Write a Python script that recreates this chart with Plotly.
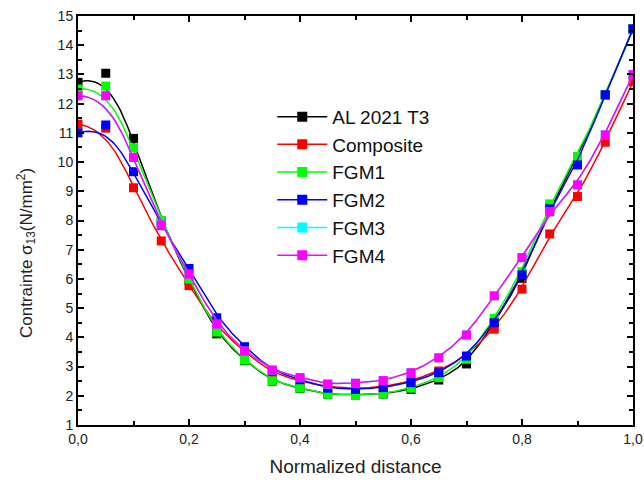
import numpy as np
import plotly.graph_objects as go

# Normalized distance along the beam
x = [0.00, 0.05, 0.10, 0.15, 0.20, 0.25, 0.30, 0.35, 0.40, 0.45, 0.50,
     0.55, 0.60, 0.65, 0.70, 0.75, 0.80, 0.85, 0.90, 0.95, 1.00]

# Shear stress sigma_13 (N/mm^2) for each material
al2021 = [12.73, 13.04, 10.81, 7.98, 5.95, 4.12, 3.20, 2.50, 2.25, 2.05, 2.03,
          2.06, 2.22, 2.54, 3.09, 4.50, 6.02, 8.45, 10.10, 12.30, 14.55]
composite = [11.30, 11.16, 9.12, 7.30, 5.77, 4.35, 3.50, 2.78, 2.50, 2.30, 2.25,
             2.30, 2.50, 2.85, 3.35, 4.28, 5.65, 7.54, 8.82, 10.68, 12.75]
fgm1 = [12.50, 12.60, 10.49, 8.00, 6.00, 4.18, 3.22, 2.51, 2.26, 2.05, 2.03,
        2.06, 2.26, 2.62, 3.25, 4.65, 6.25, 8.57, 10.19, 12.30, 14.55]
fgm2 = [11.00, 11.27, 9.67, 7.82, 6.36, 4.67, 3.68, 2.85, 2.55, 2.26, 2.22,
        2.28, 2.45, 2.79, 3.36, 4.50, 6.14, 8.40, 9.90, 12.30, 14.56]
fgm3 = [12.27, 12.27, 10.16, 7.85, 6.16, 4.45, 3.53, 2.88, 2.62, 2.40, 2.43,
        2.52, 2.79, 3.30, 4.08, 5.42, 6.73, 8.30, 9.22, 10.93, 13.00]
fgm4 = [12.27, 12.27, 10.16, 7.85, 6.16, 4.45, 3.53, 2.88, 2.62, 2.40, 2.43,
        2.52, 2.79, 3.30, 4.08, 5.42, 6.73, 8.30, 9.22, 10.93, 13.00]

names = ["AL 2021 T3", "Composite", "FGM1", "FGM2", "FGM3", "FGM4"]
series = [al2021, composite, fgm1, fgm2, fgm3, fgm4]
colors = ["#000000", "#ff0000", "#00ff00", "#0000ff", "#00ffff", "#ff00ff"]

# x-axis tick values and their labels (comma decimal separator)
x_tickvals = [0.0, 0.2, 0.4, 0.6, 0.8, 1.0]
x_ticktext = ["0,0", "0,2", "0,4", "0,6", "0,8", "1,0"]


def bspline(px, py, degree=3, samples=400):
    """Clamped uniform B-spline using the data points as control points."""
    P = np.column_stack([px, py]).astype(float)
    n = len(P)
    k = degree
    inner = np.arange(1, n - k)
    knots = np.concatenate([np.zeros(k + 1), inner, np.full(k + 1, n - k)])
    t = np.linspace(0, n - k, samples)
    t[-1] -= 1e-9
    # Cox-de Boor recursion
    N = np.zeros((samples, len(knots) - 1))
    for i in range(len(knots) - 1):
        N[:, i] = (t >= knots[i]) & (t < knots[i + 1])
    for d in range(1, k + 1):
        Nn = np.zeros((samples, len(knots) - 1 - d))
        for i in range(len(knots) - 1 - d):
            a = knots[i + d] - knots[i]
            b = knots[i + d + 1] - knots[i + 1]
            term = 0.0
            if a > 0:
                term = term + (t - knots[i]) / a * N[:, i]
            if b > 0:
                term = term + (knots[i + d + 1] - t) / b * N[:, i + 1]
            Nn[:, i] = term
        N = Nn
    C = N @ P
    return C[:, 0], C[:, 1]


fig = go.Figure()
for name, ys, c in zip(names, series, colors):
    sx, sy = bspline(x, ys)
    fig.add_trace(go.Scatter(
        x=sx, y=sy, mode="lines", showlegend=False, legendgroup=name,
        line=dict(color=c, width=1.5), hoverinfo="skip",
    ))
    fig.add_trace(go.Scatter(
        x=x, y=ys, mode="markers", showlegend=False, legendgroup=name,
        marker=dict(symbol="square", size=9, color=c), name=name,
    ))
    # legend entry: line with square marker
    fig.add_trace(go.Scatter(
        x=[None], y=[None], name=name, mode="lines+markers",
        legendgroup=name,
        line=dict(color=c, width=1.5),
        marker=dict(symbol="square", size=10, color=c),
    ))

font_family = "Liberation Sans, Arial, sans-serif"
axis_common = dict(
    showline=True, linecolor="black", linewidth=2, mirror="ticks",
    ticks="inside", ticklen=6, tickwidth=1.5, tickcolor="black",
    showgrid=False, zeroline=False, automargin=False,
    ticklabeloverflow="allow",
    tickfont=dict(family=font_family, size=14, color="#222"),
)

fig.update_layout(
    width=644, height=483,
    margin=dict(l=78, r=11, t=16, b=58),
    paper_bgcolor="white", plot_bgcolor="white",
    separators=", ",
    font=dict(family=font_family, color="#222"),
    xaxis=dict(
        range=[0, 1], tickmode="array", tickvals=x_tickvals,
        ticktext=x_ticktext,
        minor=dict(dtick=0.1, tick0=0, ticks="inside", ticklen=4,
                   tickcolor="black"),
        title=dict(text="Normalized distance", font=dict(size=19), standoff=14),
        **axis_common,
    ),
    yaxis=dict(
        range=[1, 15], dtick=1, tick0=1,
        minor=dict(dtick=0.5, ticks="inside", ticklen=4, tickcolor="black"),
        **axis_common,
    ),
    legend=dict(
        x=0.35, y=0.80, xanchor="left", yanchor="top",
        bgcolor="rgba(0,0,0,0)", borderwidth=0,
        font=dict(family=font_family, size=19, color="#111"),
        itemwidth=50, tracegroupgap=0,
    ),
)

# y-axis title placed as a rotated annotation
fig.add_annotation(
    text="Contrainte σ<sub>13</sub>(N/mm<sup>2</sup>)",
    xref="paper", yref="paper", x=-0.094, y=0.42,
    xanchor="center", yanchor="middle", textangle=-90, showarrow=False,
    font=dict(family=font_family, size=17, color="#222"),
)

fig.write_html("out.html")
